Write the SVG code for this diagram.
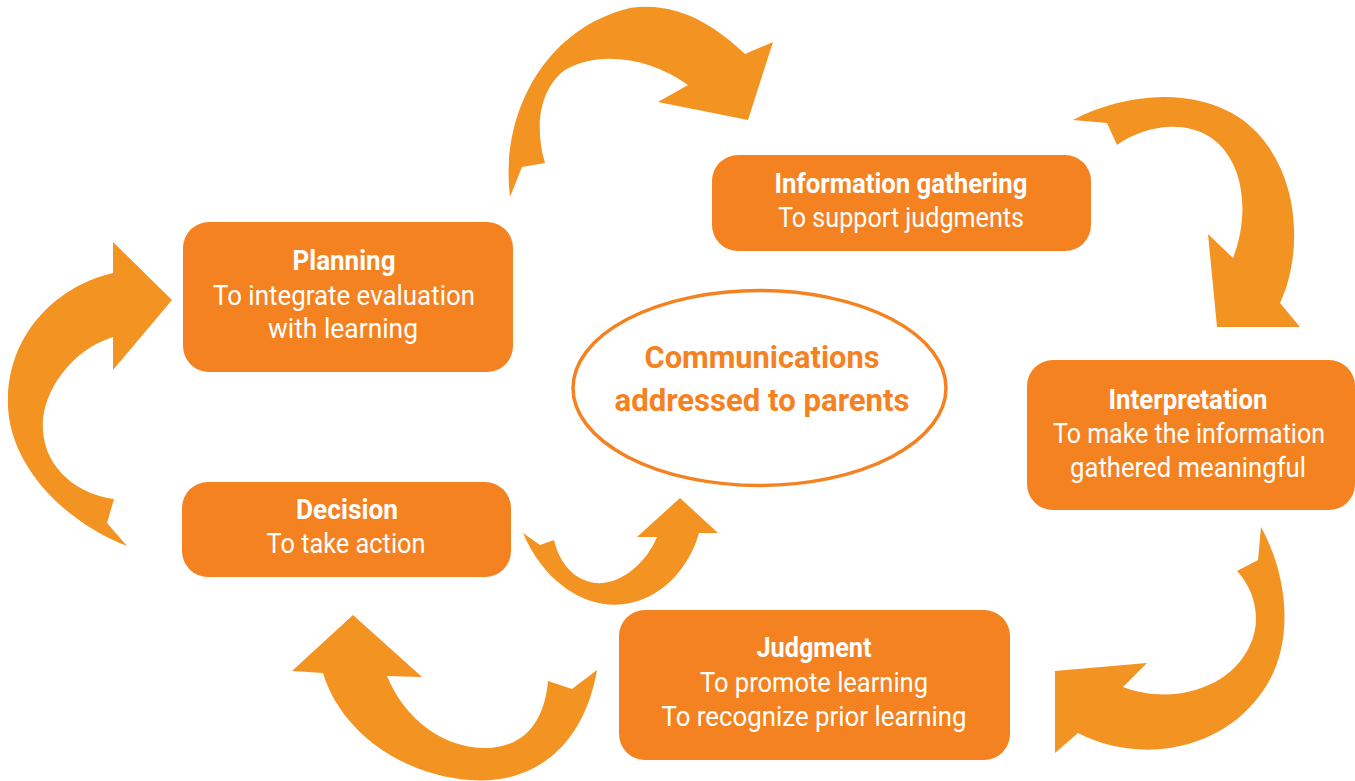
<svg xmlns="http://www.w3.org/2000/svg" width="1355" height="781" viewBox="0 0 1355 781">
<style>
.arrow{fill:#F39322;}
.box{fill:#F58220;}
.t{font-family:Roboto,"Liberation Sans",sans-serif;font-size:28px;fill:#fff;text-anchor:middle;}
.b{font-weight:bold;}
.et{font-family:Roboto,"Liberation Sans",sans-serif;font-size:32px;font-weight:bold;fill:#F58220;text-anchor:middle;}
</style>
<rect width="1355" height="781" fill="#fff"/>
<g id="connectors">
<path class="arrow" d="M510,197 C500,120 540,30 630,8 C680,0 720,30 745,54 L773,42 L748,120 L658,102 L688,85 C650,58 600,50 565,70 C538,90 535,130 545,163 L522,167 Z"/>
<path class="arrow" d="M1073,120 C1120,95 1190,85 1240,118 C1300,160 1305,250 1280,303 L1300,327 L1217,327 L1208,234 L1233,258 C1250,215 1245,160 1210,137 C1180,118 1140,128 1117,145 L1107,123 Z"/>
<path class="arrow" d="M1261,527 C1290,580 1295,650 1260,695 C1220,750 1140,765 1078,733 L1055,753 L1055,671 L1147,663 L1123,687 C1170,705 1230,690 1250,645 C1262,620 1255,590 1237,571 L1258,560 Z"/>
<path class="arrow" d="M597,670 C585,740 540,785 470,780 C400,775 340,730 323,673 L292,671 L353,615 L422,677 L387,676 C405,720 445,750 490,748 C530,745 545,715 548,681 L572,689 Z"/>
<path class="arrow" d="M127,546 C60,520 5,460 8,397 C10,330 60,285 113,273 L113,242 L172,300 L113,370 L113,337 C70,350 40,395 43,430 C45,470 80,495 114,499 L107,523 Z"/>
<path class="arrow" d="M523,533 C545,585 590,612 630,603 C665,596 690,565 699,533 L718,533 L680,498 L637,537 L657,537 C645,565 620,585 595,583 C575,580 560,565 554,540 L540,545 Z"/>
</g>
<g id="planning">
<rect class="box" x="183" y="222" width="330" height="150" rx="26"/>
<text class="t b" x="344" y="270" textLength="103" lengthAdjust="spacingAndGlyphs">Planning</text>
<text class="t" x="344" y="305" textLength="262" lengthAdjust="spacingAndGlyphs">To integrate evaluation</text>
<text class="t" x="343" y="338" textLength="150" lengthAdjust="spacingAndGlyphs">with learning</text>
</g>
<g id="information">
<rect class="box" x="712" y="155" width="379" height="96" rx="26"/>
<text class="t b" x="901" y="193" textLength="253" lengthAdjust="spacingAndGlyphs">Information gathering</text>
<text class="t" x="901" y="227" textLength="246" lengthAdjust="spacingAndGlyphs">To support judgments</text>
</g>
<g id="interpretation">
<rect class="box" x="1027" y="360" width="328" height="150" rx="26"/>
<text class="t b" x="1188" y="409" textLength="159" lengthAdjust="spacingAndGlyphs">Interpretation</text>
<text class="t" x="1189" y="443" textLength="272" lengthAdjust="spacingAndGlyphs">To make the information</text>
<text class="t" x="1188" y="477" textLength="236" lengthAdjust="spacingAndGlyphs">gathered meaningful</text>
</g>
<g id="judgment">
<rect class="box" x="619" y="610" width="391" height="150" rx="26"/>
<text class="t b" x="814" y="657" textLength="115" lengthAdjust="spacingAndGlyphs">Judgment</text>
<text class="t" x="814" y="692" textLength="228" lengthAdjust="spacingAndGlyphs">To promote learning</text>
<text class="t" x="814" y="726" textLength="305" lengthAdjust="spacingAndGlyphs">To recognize prior learning</text>
</g>
<g id="decision">
<rect class="box" x="182" y="482" width="329" height="95" rx="26"/>
<text class="t b" x="347" y="519" textLength="102" lengthAdjust="spacingAndGlyphs">Decision</text>
<text class="t" x="346" y="553" textLength="159" lengthAdjust="spacingAndGlyphs">To take action</text>
</g>
<g id="communications">
<ellipse cx="759.5" cy="388" rx="186.5" ry="97.5" fill="none" stroke="#F58220" stroke-width="3.5"/>
<text class="et" x="762" y="368" textLength="235" lengthAdjust="spacingAndGlyphs">Communications</text>
<text class="et" x="762" y="411" textLength="295" lengthAdjust="spacingAndGlyphs">addressed to parents</text>
</g>
</svg>
